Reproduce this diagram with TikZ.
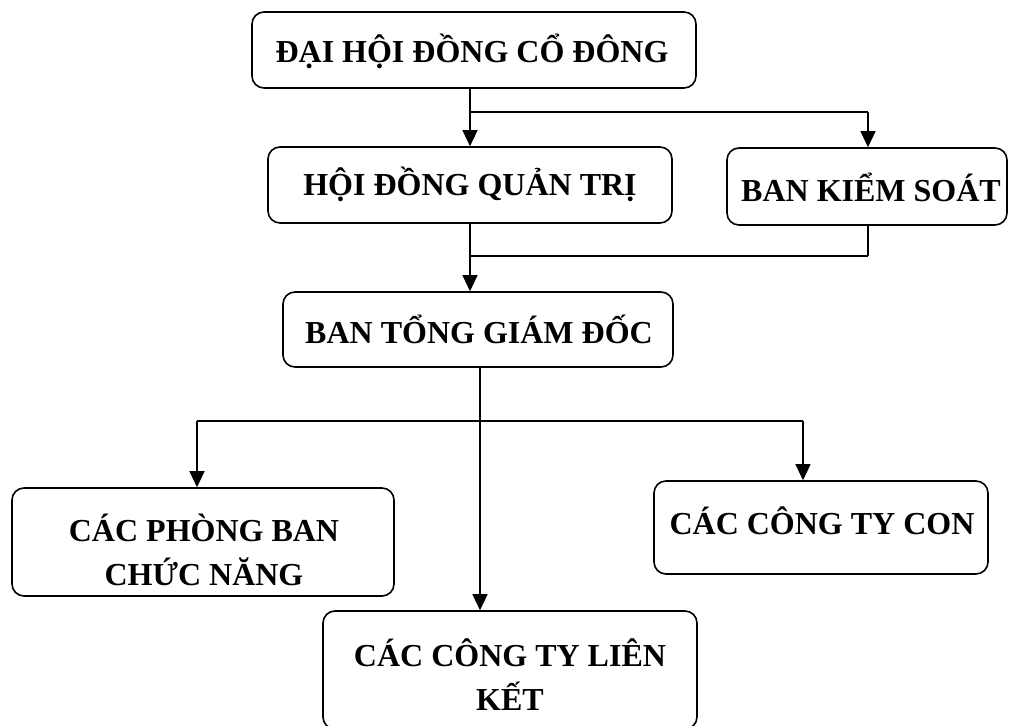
\documentclass[tikz,border=0pt]{standalone}
\usepackage{fontspec}
\setmainfont{Liberation Serif}
\usetikzlibrary{arrows.meta}
\begin{document}
\begin{tikzpicture}[x=1pt,y=-1pt,
  box/.style={draw,line width=1.6pt,rounded corners=12pt,inner sep=0pt},
  lbl/.style={font=\fontsize{32}{44}\selectfont\bfseries,align=center,inner sep=0pt},
  conn/.style={line width=1.2pt},
  bar/.style={line width=1.8pt},
  arr/.style={line width=1.2pt,-{Triangle[length=16pt,width=15pt]}}]
\useasboundingbox (0,0) rectangle (1011,725);
% boxes
\node[box,minimum width=444pt,minimum height=76pt] (dhd) at (474,50) {};
\node[box,minimum width=404pt,minimum height=76pt] (hdqt) at (470,185) {};
\node[box,minimum width=280pt,minimum height=77pt] (bks) at (867,186.5) {};
\node[box,minimum width=390pt,minimum height=75pt] (btgd) at (478,329.5) {};
\node[box,minimum width=382pt,minimum height=108pt] (pb) at (203,542) {};
\node[box,minimum width=334pt,minimum height=93pt] (ctc) at (821,527.5) {};
\node[box,minimum width=374pt,minimum height=118pt] (lk) at (510,670) {};
% texts
\node[lbl] (tdhd) at (472,51) {ĐẠI HỘI ĐỒNG CỔ ĐÔNG};
\node[lbl] (thdqt) at (470,184) {HỘI ĐỒNG QUẢN TRỊ};
\node[lbl] (tbks) at (871,187) {BAN KIỂM SOÁT};
\node[lbl] (tbtgd) at (479,329) {BAN TỔNG GIÁM ĐỐC};
\node[lbl] (tpb) at (204,550) {CÁC PHÒNG BAN\\CHỨC NĂNG};
\node[lbl] (tctc) at (822,521) {CÁC CÔNG TY CON};
\node[lbl] (tlk) at (510,675) {CÁC CÔNG TY LIÊN\\KẾT};
% connectors
\coordinate (j1) at (470,112);
\coordinate (j1r) at (868,112);
\coordinate (j2) at (470,256);
\coordinate (j2r) at (868,256);
\coordinate (j3) at (480,421);
\coordinate (j3l) at (197,421);
\coordinate (j3r) at (803,421);
\draw[arr] (dhd.south -| hdqt.north) -- (hdqt.north);
\draw[bar] (j1) -- (j1r);
\draw[arr] (j1r) -- (j1r |- bks.north);
\draw[arr] (hdqt.south) -- (hdqt.south |- btgd.north);
\draw[conn] (bks.south -| j2r) -- (j2r);
\draw[bar] (j2r) -- (j2);
\draw[arr] (btgd.south -| j3) -- (j3 |- lk.north);
\draw[bar] (j3l) -- (j3r);
\draw[arr] (j3l) -- (j3l |- pb.north);
\draw[arr] (j3r) -- (j3r |- ctc.north);
\end{tikzpicture}
\end{document}
